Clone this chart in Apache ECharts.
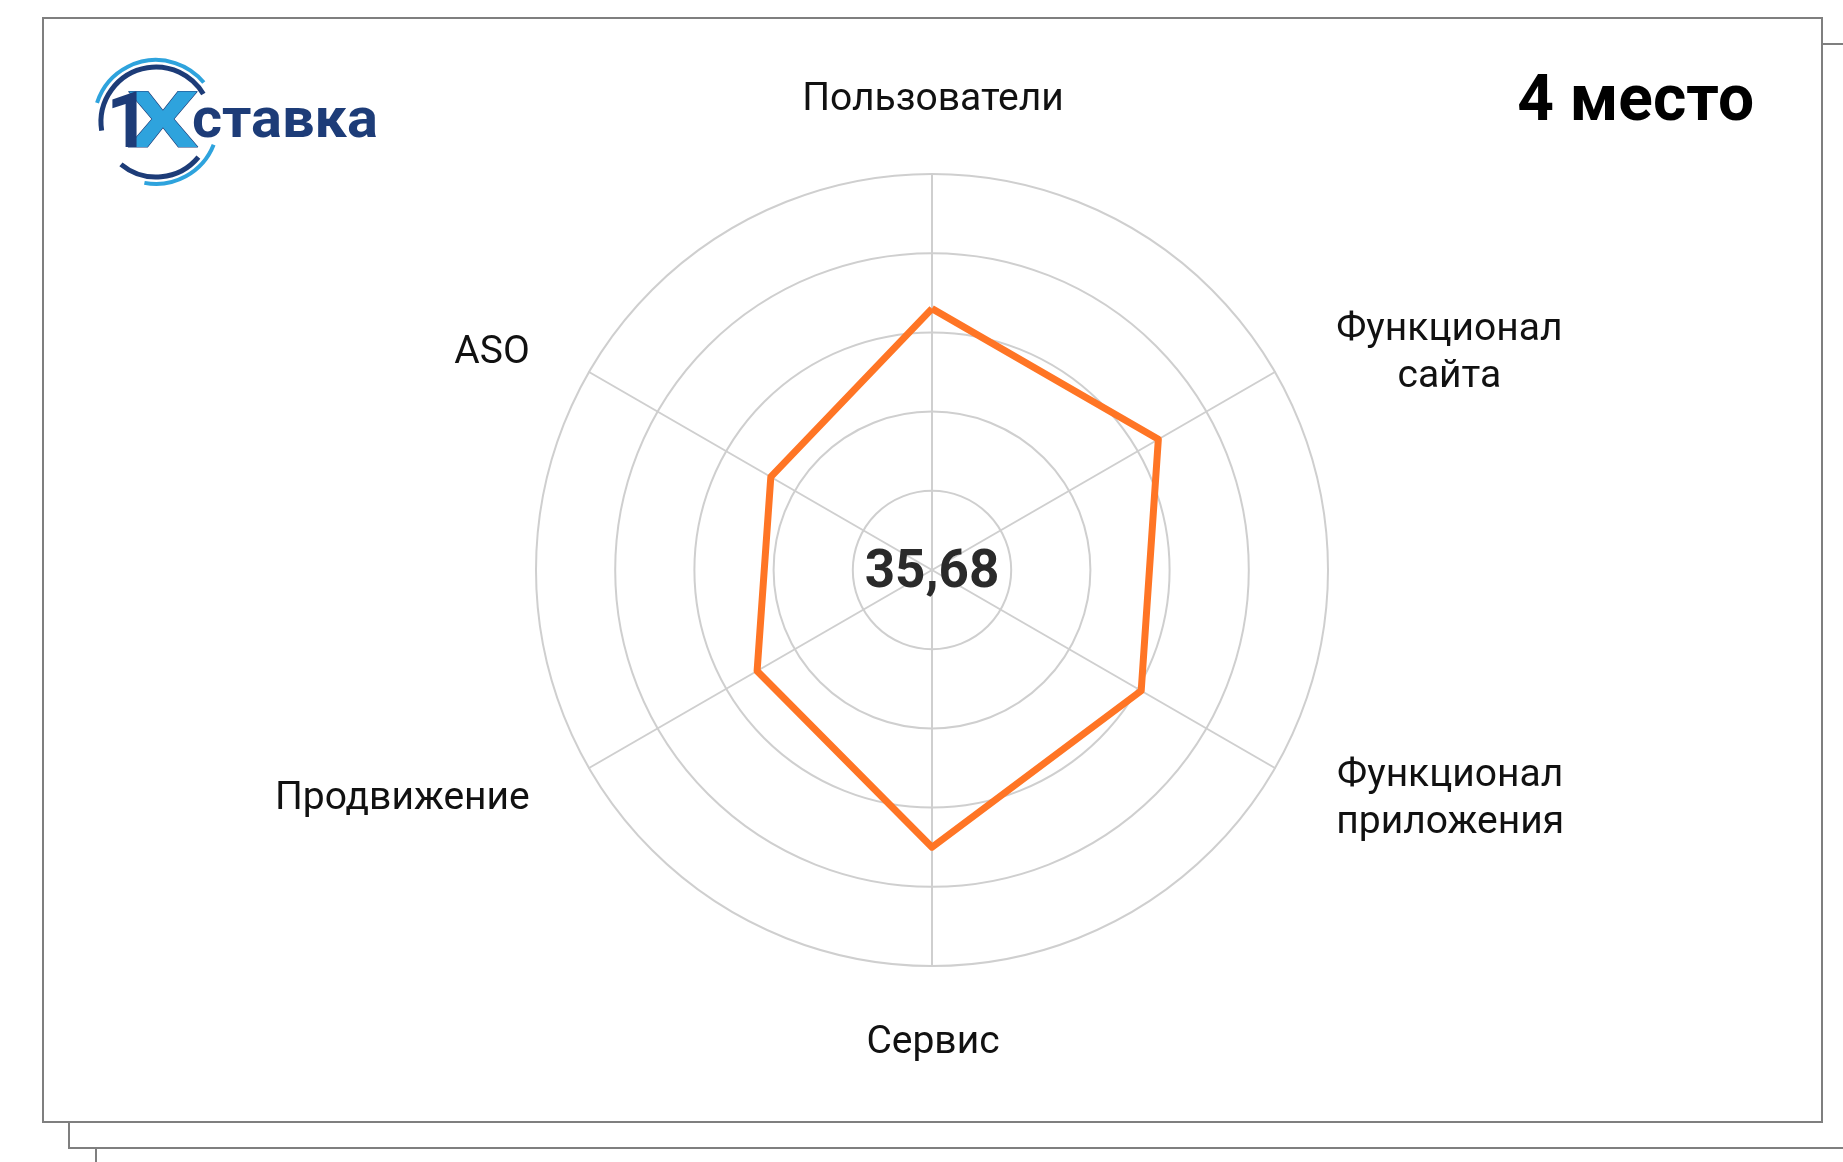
<!DOCTYPE html>
<html>
<head>
<meta charset="utf-8">
<title>1Xставка — 4 место</title>
<script src="https://cdn.jsdelivr.net/npm/echarts@6/dist/echarts.min.js"></script>
<style>
  html, body { margin: 0; padding: 0; background: #fff; }
  #chart { width: 1843px; height: 1162px; }
</style>
</head>
<body>
<div id="chart"></div>
<script>
// indicators in ECharts order (top, then counter-clockwise)
var indicatorNames = [
  "Пользователи",
  "ASO",
  "Продвижение",
  "Сервис",
  "Функционал\nприложения",
  "Функционал\nсайта"
];
var indicatorMax = [100, 100, 100, 100, 100, 100];
var scoreValues = [66, 47, 51, 70, 61, 66];
var totalScore = "35,68";
var placeText = "4 место";

var chart = echarts.init(document.getElementById("chart"));

var navy = "#1d3c78";
var lightBlue = "#2ea3dd";
var grid = "#cfcfcf";

chart.setOption({
  animation: false,
  backgroundColor: "#fff",
  radar: {
    center: [932, 570],
    radius: 396,
    startAngle: 90,
    splitNumber: 5,
    shape: "circle",
    nameGap: 50,
    indicator: indicatorNames.map(function (n, i) {
      return { name: n, max: indicatorMax[i] };
    }),
    axisName: {
      color: "#111",
      fontFamily: "Roboto",
      fontSize: 39,
      padding: [0, 16, 0, 18],
      formatter: function (name) {
        var lines = name.split("\n").map(function (l) {
          return "{t|" + l + "}";
        });
        // small spacer on top to nudge labels down like the original
        var head = "";
        if (name === "Сервис") head = "{s2| }\n";
        else if (name !== "Пользователи") head = "{s1| }\n";
        return head + lines.join("\n");
      },
      rich: {
        t: {
          fontFamily: "Roboto",
          fontSize: 39,
          lineHeight: 47,
          color: "#111",
          align: "center"
        },
        s1: { fontSize: 1, lineHeight: 13 },
        s2: { fontSize: 1, lineHeight: 4 }
      }
    },
    axisLine: { lineStyle: { color: grid, width: 2 } },
    splitLine: { lineStyle: { color: grid, width: 2 } },
    splitArea: { show: false },
    axisTick: { show: false },
    axisLabel: { show: false }
  },
  series: [
    {
      type: "radar",
      symbol: "none",
      lineStyle: { color: "#ff7525", width: 7 },
      data: [{ value: scoreValues, name: "1Xставка" }]
    }
  ],
  graphic: [
    // stacked page frames
    { type: "rect", z: 0, shape: { x: 96, y: 70, width: 1800, height: 1200 },
      style: { fill: "#fff", stroke: "#7f7f7f", lineWidth: 2 } },
    { type: "rect", z: 0, shape: { x: 69, y: 44, width: 1800, height: 1104 },
      style: { fill: "#fff", stroke: "#7f7f7f", lineWidth: 2 } },
    { type: "rect", z: 0, shape: { x: 43, y: 18, width: 1779, height: 1104 },
      style: { fill: "#fff", stroke: "#7f7f7f", lineWidth: 2 } },

    // logo rings
    { type: "arc", z: 10, shape: { cx: 156, cy: 122, r: 55, startAngle: Math.PI * 0.95, endAngle: Math.PI * 1.83, clockwise: true },
      style: { stroke: navy, lineWidth: 5, fill: null } },
    { type: "arc", z: 10, shape: { cx: 156, cy: 122, r: 62, startAngle: Math.PI * 1.1, endAngle: Math.PI * 1.78, clockwise: true },
      style: { stroke: lightBlue, lineWidth: 4, fill: null } },
    { type: "arc", z: 10, shape: { cx: 156, cy: 122, r: 55, startAngle: Math.PI * 0.22, endAngle: Math.PI * 0.72, clockwise: true },
      style: { stroke: navy, lineWidth: 5, fill: null } },
    { type: "arc", z: 10, shape: { cx: 156, cy: 122, r: 62, startAngle: Math.PI * 0.12, endAngle: Math.PI * 0.56, clockwise: true },
      style: { stroke: lightBlue, lineWidth: 4, fill: null } },
    { type: "text", z: 11, x: 127, y: 127, scaleX: 1.45,
      style: { text: "X", fontFamily: "Roboto", fontWeight: "bold", fontSize: 78, fill: lightBlue, stroke: navy, lineWidth: 1, verticalAlign: "middle" } },
    { type: "text", z: 12, x: 106, y: 127,
      style: { text: "1", fontFamily: "Roboto", fontWeight: "bold", fontSize: 78, fill: navy, verticalAlign: "middle" } },
    { type: "text", z: 11, x: 192, y: 123, scaleX: 1.03,
      style: { text: "ставка", fontFamily: "Roboto", fontWeight: "bold", fontSize: 56, fill: navy, verticalAlign: "middle" } },

    // place
    { type: "text", z: 10, x: 1754, y: 104,
      style: { text: placeText, fontFamily: "Roboto", fontWeight: "bold", fontSize: 64, fill: "#000", align: "right", verticalAlign: "middle" } },

    // total score in the middle
    { type: "text", z: 10, x: 932, y: 574,
      style: { text: totalScore, fontFamily: "Roboto", fontWeight: "bold", fontSize: 53, fill: "#2a2a2a", align: "center", verticalAlign: "middle" } }
  ]
});
</script>
</body>
</html>
